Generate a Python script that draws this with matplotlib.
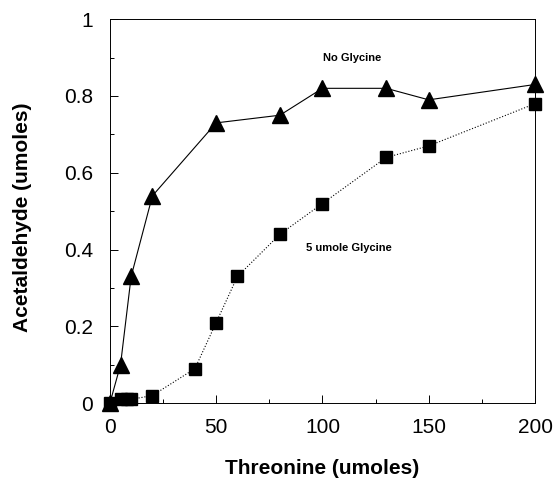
import matplotlib.pyplot as plt
from matplotlib.ticker import MultipleLocator

plt.rcParams['font.family'] = ['Liberation Sans', 'DejaVu Sans']

thr_no_gly = [0, 5, 10, 20, 50, 80, 100, 130, 150, 200]
ace_no_gly = [0, 0.10, 0.33, 0.54, 0.73, 0.75, 0.82, 0.82, 0.79, 0.83]

thr_gly = [0, 5, 8, 10, 20, 40, 50, 60, 80, 100, 130, 150, 200]
ace_gly = [0, 0.01, 0.01, 0.01, 0.02, 0.09, 0.21, 0.33, 0.44, 0.52, 0.64, 0.67, 0.78]

fig = plt.figure(figsize=(5.55, 4.8), dpi=100)
ax = fig.add_axes([0.198, 0.160, 0.766, 0.800])

ax.plot(thr_no_gly, ace_no_gly, color='black', lw=0.8, marker='^', ms=11, clip_on=False, zorder=3)
ax.plot(thr_gly, ace_gly, color='black', lw=0.8, ls=':', marker='s', ms=9, clip_on=False, zorder=3)

ax.text(114, 0.90, 'No Glycine', fontsize=8, fontweight='bold', ha='center', va='center')
ax.text(112.5, 0.404, '5 umole Glycine', fontsize=8, fontweight='bold', ha='center', va='center')

ax.set_xlim(0, 200)
ax.set_ylim(0, 1)
ax.xaxis.set_major_locator(MultipleLocator(50))
ax.xaxis.set_minor_locator(MultipleLocator(25))
ax.yaxis.set_minor_locator(MultipleLocator(0.1))
ax.set_yticks([0, 0.2, 0.4, 0.6, 0.8, 1])
ax.set_yticklabels(['0', '0.2', '0.4', '0.6', '0.8', '1'])
ax.tick_params(which='both', direction='in', labelsize=15)
ax.tick_params(axis='x', pad=11)
ax.tick_params(axis='y', pad=12)
ax.tick_params(which='major', length=6, width=0.7)
ax.tick_params(which='minor', length=3, width=0.7)
for s in ax.spines.values():
    s.set_linewidth(0.7)

ax.set_xlabel('Threonine (umoles)', fontsize=15, fontweight='bold', va='center')
ax.set_ylabel('Acetaldehyde (umoles)', fontsize=15, fontweight='bold', va='center')
ax.xaxis.set_label_coords(0.5, -0.169)
ax.yaxis.set_label_coords(-0.205, 0.485)

plt.savefig('out.png', dpi=100)
